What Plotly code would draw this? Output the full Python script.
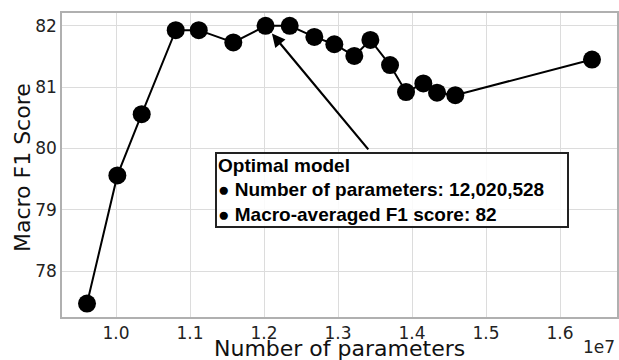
import plotly.graph_objects as go

# Data
num_params = [9608000, 10018000, 10347000, 10807000, 11118000, 11585000, 12020528,
              12347000, 12680000, 12950000, 13220000, 13437000, 13703000, 13919000,
              14153000, 14338000, 14585000, 16432000]
macro_f1 = [77.47, 79.56, 80.56, 81.93, 81.93, 81.73, 82.0,
            82.0, 81.82, 81.70, 81.51, 81.77, 81.36, 80.92,
            81.06, 80.91, 80.87, 81.45]

x_tickvals = [1.0e7, 1.1e7, 1.2e7, 1.3e7, 1.4e7, 1.5e7, 1.6e7]
x_ticktext = ["1.0", "1.1", "1.2", "1.3", "1.4", "1.5", "1.6"]
y_tickvals = [78, 79, 80, 81, 82]
y_ticktext = ["78", "79", "80", "81", "82"]
x_title = "Number of parameters"
y_title = "Macro F1 Score"

opt_idx = 6
opt_params = num_params[opt_idx]
opt_f1 = macro_f1[opt_idx]

fig = go.Figure()
fig.add_trace(go.Scatter(
    x=num_params, y=macro_f1, mode="lines+markers",
    line=dict(color="black", width=2),
    marker=dict(color="black", size=18),
    showlegend=False,
))

axis_common = dict(
    showgrid=True, gridcolor="#dcdcdc", gridwidth=1,
    showline=True, linecolor="#b0b0b0", linewidth=1.5, mirror=True,
    zeroline=False, ticks="", automargin=False,
    tickfont=dict(family="DejaVu Sans", size=17, color="#222"),
)

fig.update_xaxes(range=[0.927e7, 1.677e7], tickvals=x_tickvals, ticktext=x_ticktext, **axis_common)
fig.update_yaxes(range=[77.25, 82.21], tickvals=y_tickvals, ticktext=y_ticktext, **axis_common)

title_font = dict(family="DejaVu Sans", size=22, color="#111")
fig.add_annotation(x=0.5, y=-0.103, xref="paper", yref="paper", xanchor="center", yanchor="middle",
                   text=x_title, showarrow=False, font=title_font)
fig.add_annotation(x=-0.072, y=0.49, xref="paper", yref="paper", xanchor="center", yanchor="middle",
                   text=y_title, textangle=-90, showarrow=False, font=title_font)

fig.add_annotation(
    x=opt_params, y=opt_f1, xref="x", yref="y",
    ax=104, ay=125, axref="pixel", ayref="pixel",
    text="", showarrow=True, arrowhead=2, arrowsize=1.2, arrowwidth=2.2,
    arrowcolor="black", standoff=10,
)

box_text = ("<b>Optimal model</b><br>"
            "<b>\u25cf Number of parameters: {:,}</b><br>"
            "<b>\u25cf Macro-averaged F1 score: {:.0f}</b>").format(opt_params, opt_f1)
fig.add_annotation(
    x=0.2757, y=0.5428, xref="paper", yref="paper",
    xanchor="left", yanchor="top", showarrow=False,
    text=box_text, align="left", width=348, height=70,
    font=dict(family="Liberation Sans", size=19, color="black"),
    bordercolor="#222", borderwidth=2, borderpad=1,
    bgcolor="rgba(255,255,255,0.85)",
)

fig.add_annotation(
    x=1.0, y=-0.1, xref="paper", yref="paper", xanchor="right", yanchor="middle",
    text="1e7", showarrow=False,
    font=dict(family="DejaVu Sans", size=17, color="#222"),
)

fig.update_layout(
    width=619, height=360,
    margin=dict(l=62, r=2, t=13, b=43, autoexpand=False),
    paper_bgcolor="white", plot_bgcolor="white",
)

fig.write_html("out.html", config={"displayModeBar": False},
               post_script="document.body.style.margin='0';document.body.style.overflow='hidden';")
